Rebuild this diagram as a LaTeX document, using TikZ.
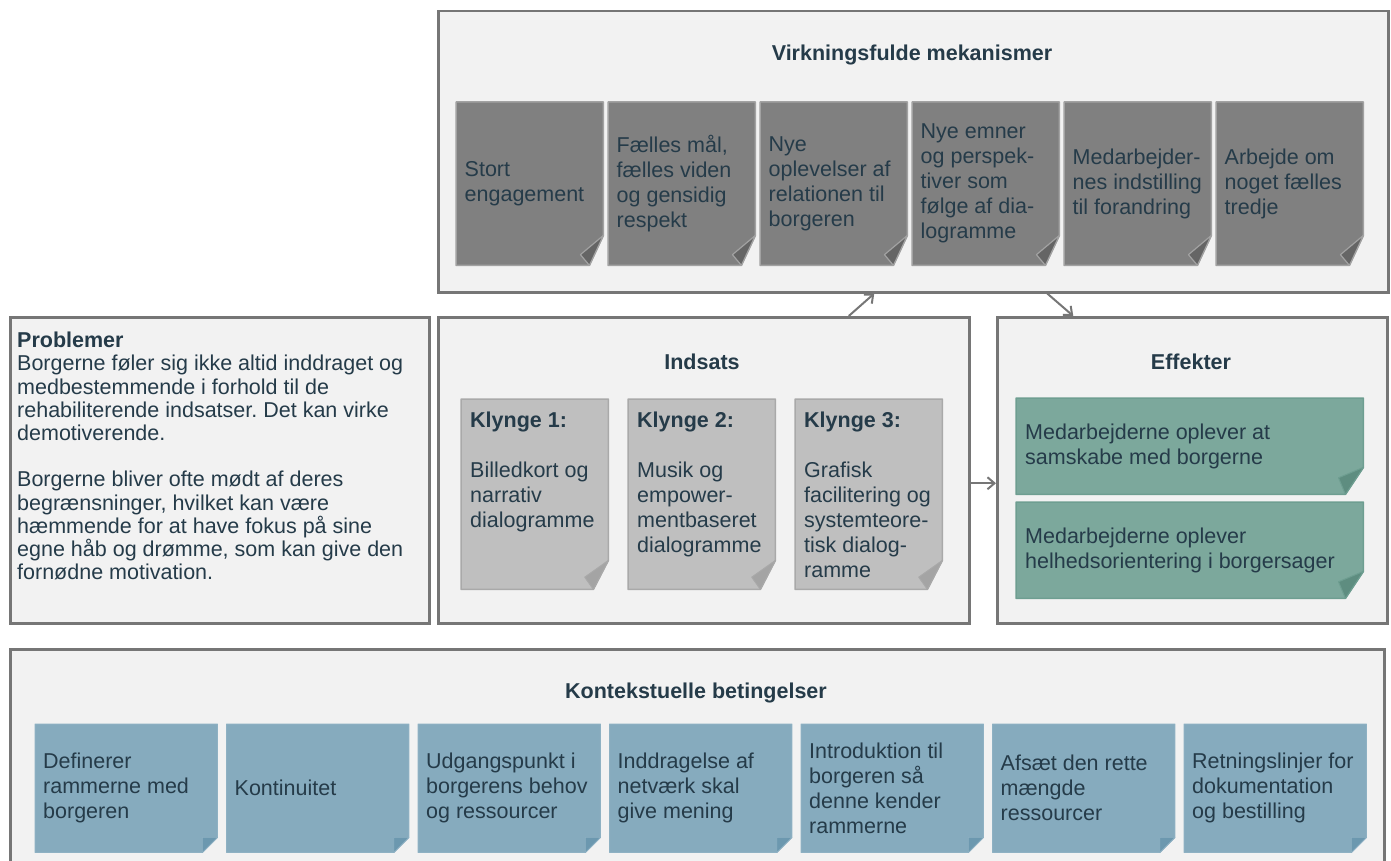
\documentclass[tikz,border=0pt]{standalone}
\usepackage{fontspec}
\setmainfont{Liberation Sans}
\usetikzlibrary{arrows.meta}
\frenchspacing

\definecolor{cPanel}{HTML}{F2F2F2}
\definecolor{cFrame}{HTML}{767676}
\definecolor{cInk}{HTML}{253B49}
\definecolor{cMech}{HTML}{808080}
\definecolor{cMechEdge}{HTML}{A2A2A2}
\definecolor{cMechFold}{HTML}{656565}
\definecolor{cKl}{HTML}{BFBFBF}
\definecolor{cKlEdge}{HTML}{A9A9A9}
\definecolor{cKlFold}{HTML}{A4A4A4}
\definecolor{cEff}{HTML}{7CA89C}
\definecolor{cEffEdge}{HTML}{6E9E91}
\definecolor{cEffFold}{HTML}{5E8D80}
\definecolor{cCtx}{HTML}{86ABBE}
\definecolor{cCtxEdge}{HTML}{8EB1C3}
\definecolor{cCtxFold}{HTML}{6C98AF}

\pgfdeclarelayer{panels}
\pgfdeclarelayer{sheets}
\pgfsetlayers{panels,sheets,main}

\newcommand\cardfont{\fontsize{21.5}{25}\selectfont}

% paper sheet behind node #1, cut corner #4 x #5 folded over
\newcommand\papersheet[5]{%
  \pgfmathsetmacro\foldx{-2*#4/(1+(#4/#5)*(#4/#5))}%
  \pgfmathsetmacro\foldy{2*#5/(1+(#5/#4)*(#5/#4))}%
  \begin{pgfonlayer}{sheets}
    \filldraw[#2] (#1.north west) -- (#1.north east) -- ([yshift=#5pt]#1.south east)
      -- ([xshift=-#4pt]#1.south east) -- (#1.south west) -- cycle;
    \filldraw[#3] ([yshift=#5pt]#1.south east) -- ([xshift=-#4pt]#1.south east)
      -- ([shift={(\foldx pt,\foldy pt)}]#1.south east) -- cycle;
  \end{pgfonlayer}}

\begin{document}
\begin{tikzpicture}[x=1pt, y=-1pt,
  panel/.style={draw=cFrame, line width=2.5pt, fill=cPanel, anchor=north west, inner sep=0pt},
  heading/.style={font=\bfseries\cardfont, text=cInk},
  sheetbox/.style={anchor=north west, inner sep=0pt},
  cardtext/.style={inner sep=0pt, align=left, text=cInk, font=\cardfont},
  mechsheet/.style={fill=cMech, draw=cMechEdge, line width=1.5pt, line join=round},
  mechfold/.style={fill=cMechFold, draw=cMechEdge, line width=1.2pt, line join=round},
  klsheet/.style={fill=cKl, draw=cKlEdge, line width=1.5pt, line join=round},
  klfold/.style={fill=cKlFold, draw=cKlEdge, line width=1pt, line join=round},
  effsheet/.style={fill=cEff, draw=cEffEdge, line width=1.5pt, line join=round},
  efffold/.style={fill=cEffFold, draw=cEffEdge, line width=1pt, line join=round},
  ctxsheet/.style={fill=cCtx, draw=cCtxEdge, line width=1pt, line join=round},
  ctxfold/.style={fill=cCtxFold, draw=cCtxEdge, line width=.6pt, line join=round},
  flow/.style={draw=cFrame, line width=2pt, -{Straight Barb[length=7pt,width=12pt]}}]
\useasboundingbox (0,0) rectangle (1391,861);

\begin{pgfonlayer}{panels}
\node[panel, minimum width=950, minimum height=281] (virk) at (437,10) {};
\node[panel, minimum width=419, minimum height=306] (problemer) at (9,316) {};
\node[panel, minimum width=531, minimum height=306] (indsats) at (437,316) {};
\node[panel, minimum width=390, minimum height=306] (effekter) at (996,316) {};
\node[panel, minimum width=1374, minimum height=240] (kontekst) at (9,648) {};
\end{pgfonlayer}

\node[heading] (virktitle) at (912,55) {Virkningsfulde mekanismer};
\node[heading] (indsatstitle) at (702,362) {Indsats};
\node[heading] (effektertitle) at (1191,362) {Effekter};
\node[heading] (kontekstitle) at (696,693) {Kontekstuelle betingelser};

\node[cardtext, anchor=north west, font=\fontsize{21.5}{23.2}\selectfont] (probtxt) at (17,332)
  {\textbf{Problemer}\\
   Borgerne føler sig ikke altid inddraget og\\
   medbestemmende i forhold til de\\
   rehabiliterende indsatser. Det kan virke\\
   demotiverende.\\[23.2pt]
   Borgerne bliver ofte mødt af deres\\
   begrænsninger, hvilket kan være\\
   hæmmende for at have fokus på sine\\
   egne håb og drømme, som kan give den\\
   fornødne motivation.};

\foreach \i/\txt in {0/{Stort\\engagement},
    1/{Fælles mål,\\fælles viden\\og gensidig\\respekt},
    2/{Nye\\oplevelser af\\relationen til\\borgeren},
    3/{Nye emner\\og perspek-\\tiver som\\følge af dia-\\logramme},
    4/{Medarbejder-\\nes indstilling\\til forandring},
    5/{Arbejde om\\noget fælles\\tredje}}{
  \node[sheetbox, minimum width=147, minimum height=163] (mek\i) at ({456+152*\i},102) {};
  \node[cardtext, anchor=west] (mek\i txt) at ([xshift=8.5pt]mek\i.west) {\txt};
  \papersheet{mek\i}{mechsheet}{mechfold}{14}{30}
}

\foreach \i/\txt in {1/{Billedkort og\\narrativ\\dialogramme},
    2/{Musik og\\empower-\\mentbaseret\\dialogramme},
    3/{Grafisk\\facilitering og\\systemteore-\\tisk dialog-\\ramme}}{
  \node[sheetbox, minimum width=147, minimum height=190] (kl\i) at ({461+167*(\i-1)},399) {};
  \node[cardtext, anchor=north west] (kl\i txt) at ([shift={(9pt,-13pt)}]kl\i.north west)
    {\textbf{Klynge \i:}\\[25pt]\txt};
  \papersheet{kl\i}{klsheet}{klfold}{15}{29}
}

\node[sheetbox, minimum width=347, minimum height=96] (eff1) at (1016,398) {};
\node[cardtext, anchor=west] (eff1txt) at ([xshift=9pt]eff1.west)
  {Medarbejderne oplever at\\samskabe med borgerne};
\papersheet{eff1}{effsheet}{efffold}{18}{27}
\node[sheetbox, minimum width=347, minimum height=96] (eff2) at (1016,502) {};
\node[cardtext, anchor=west] (eff2txt) at ([xshift=9pt]eff2.west)
  {Medarbejderne oplever\\helhedsorientering i borgersager};
\papersheet{eff2}{effsheet}{efffold}{18}{27}

\foreach \i/\txt in {0/{Definerer\\rammerne med\\borgeren},
    1/{Kontinuitet},
    2/{Udgangspunkt i\\borgerens behov\\og ressourcer},
    3/{Inddragelse af\\netværk skal\\give mening},
    4/{Introduktion til\\borgeren så\\denne kender\\rammerne},
    5/{Afsæt den rette\\mængde\\ressourcer},
    6/{Retningslinjer for\\dokumentation\\og bestilling}}{
  \node[sheetbox, minimum width=182, minimum height=128] (ctx\i) at ({35+191.5*\i},724) {};
  \node[cardtext, anchor=west] (ctx\i txt) at ([xshift=8pt]ctx\i.west) {\txt};
  \papersheet{ctx\i}{ctxsheet}{ctxfold}{15}{15}
}

\draw[flow] ([xshift=145pt]indsats.north) -- ([xshift=-39pt]virk.south);
\draw[flow] ([xshift=134pt]virk.south) -- ([xshift=-119pt]effekter.north);
\draw[flow] ([yshift=-13pt]indsats.east) -- ([yshift=-13pt]effekter.west);
\end{tikzpicture}
\end{document}
